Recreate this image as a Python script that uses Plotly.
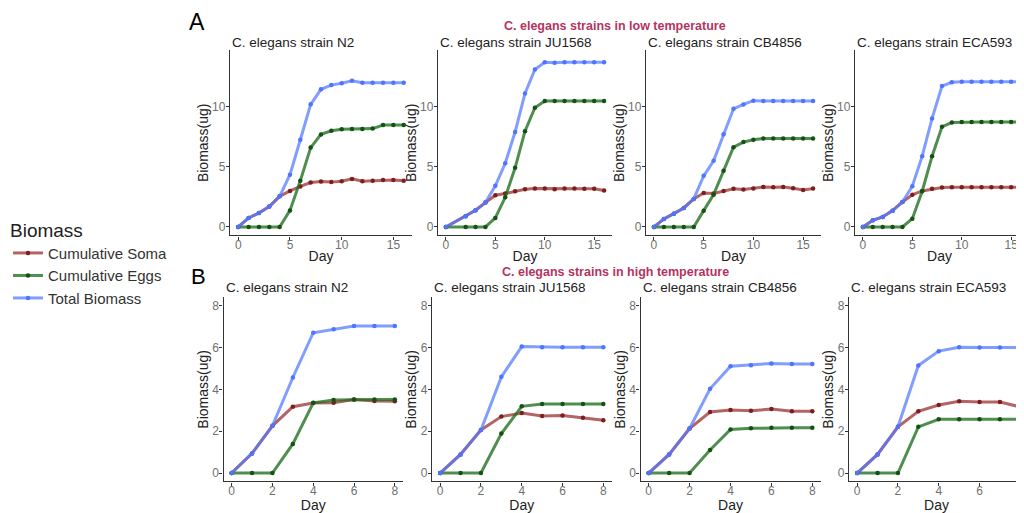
import plotly.graph_objects as go

# The page body has an 8px default margin; the figure is sized so that
# page pixel coordinates map exactly onto the 1024x513 reference.
OFF = 8
W, H = 1024 - OFF, 513 - OFF

# ---------------- data ----------------
strains = ["N2", "JU1568", "CB4856", "ECA593"]

# Low temperature (panel A)
low_days = {
    "N2":     [0, 1, 2, 3, 4, 5, 6, 7, 8, 9, 10, 11, 12, 13, 14, 15, 16],
    "JU1568": [0, 2, 3, 4, 5, 6, 7, 8, 9, 10, 11, 12, 13, 14, 15, 16],
    "CB4856": [0, 1, 2, 3, 4, 5, 6, 7, 8, 9, 10, 11, 12, 13, 14, 15, 16],
    "ECA593": [0, 1, 2, 3, 4, 5, 6, 7, 8, 9, 10, 11, 12, 13, 14, 15, 16],
}
low_soma = {
    "N2":     [0, 0.75, 1.16, 1.70, 2.55, 3.00, 3.37, 3.70, 3.78, 3.73, 3.81, 4.00, 3.81, 3.84, 3.90, 3.90, 3.84],
    "JU1568": [0, 0.89, 1.39, 2.03, 2.64, 2.78, 2.97, 3.14, 3.19, 3.19, 3.14, 3.19, 3.19, 3.17, 3.17, 3.03],
    "CB4856": [0, 0.67, 1.11, 1.58, 2.33, 2.83, 2.78, 3.00, 3.17, 3.11, 3.19, 3.33, 3.31, 3.33, 3.22, 3.08, 3.19],
    "ECA593": [0, 0.56, 0.83, 1.36, 2.08, 2.67, 3.00, 3.17, 3.28, 3.31, 3.31, 3.31, 3.31, 3.31, 3.31, 3.31, 3.31],
}
low_eggs = {
    "N2":     [0, 0, 0, 0, 0, 1.38, 3.84, 6.60, 7.70, 8.00, 8.12, 8.15, 8.15, 8.18, 8.48, 8.48, 8.48],
    "JU1568": [0, 0, 0, 0, 0.75, 2.47, 4.92, 7.97, 9.92, 10.47, 10.47, 10.47, 10.47, 10.47, 10.47, 10.47],
    "CB4856": [0, 0, 0, 0, 0, 1.36, 2.69, 4.67, 6.64, 7.06, 7.25, 7.36, 7.36, 7.36, 7.36, 7.36, 7.36],
    "ECA593": [0, 0, 0, 0, 0, 0.69, 2.97, 5.89, 8.33, 8.69, 8.72, 8.72, 8.72, 8.72, 8.72, 8.72, 8.72],
}
low_total = {
    "N2":     [0, 0.75, 1.16, 1.70, 2.55, 4.35, 7.25, 10.20, 11.45, 11.80, 11.95, 12.15, 12.00, 12.00, 12.00, 12.00, 12.00],
    "JU1568": [0, 0.89, 1.39, 2.03, 3.42, 5.30, 7.90, 11.10, 13.10, 13.70, 13.65, 13.70, 13.70, 13.70, 13.70, 13.70],
    "CB4856": [0, 0.67, 1.11, 1.58, 2.33, 4.25, 5.50, 7.72, 9.83, 10.19, 10.50, 10.47, 10.47, 10.47, 10.47, 10.47, 10.47],
    "ECA593": [0, 0.56, 0.83, 1.36, 2.08, 3.39, 5.89, 9.03, 11.72, 12.03, 12.08, 12.08, 12.08, 12.08, 12.08, 12.08, 12.08],
}

# High temperature (panel B)
high_days = [0, 1, 2, 3, 4, 5, 6, 7, 8]
high_soma = {
    "N2":     [0, 0.94, 2.26, 3.17, 3.35, 3.36, 3.52, 3.44, 3.43],
    "JU1568": [0, 0.89, 2.06, 2.70, 2.87, 2.73, 2.75, 2.65, 2.52],
    "CB4856": [0, 0.89, 2.13, 2.92, 3.02, 2.98, 3.06, 2.95, 2.95],
    "ECA593": [0, 0.89, 2.21, 2.95, 3.25, 3.43, 3.40, 3.40, 3.16],
}
high_eggs = {
    "N2":     [0, 0, 0, 1.39, 3.36, 3.49, 3.52, 3.52, 3.52],
    "JU1568": [0, 0, 0, 1.89, 3.19, 3.30, 3.30, 3.30, 3.30],
    "CB4856": [0, 0, 0, 1.10, 2.08, 2.14, 2.16, 2.16, 2.16],
    "ECA593": [0, 0, 0, 2.21, 2.57, 2.57, 2.57, 2.57, 2.57],
}
high_total = {
    "N2":     [0, 0.94, 2.26, 4.57, 6.71, 6.88, 7.03, 7.03, 7.03],
    "JU1568": [0, 0.89, 2.06, 4.60, 6.05, 6.02, 6.02, 6.02, 6.02],
    "CB4856": [0, 0.89, 2.13, 4.03, 5.11, 5.16, 5.24, 5.22, 5.22],
    "ECA593": [0, 0.89, 2.21, 5.14, 5.83, 6.02, 6.00, 6.00, 6.00],
}

series_names = ["Cumulative Soma", "Cumulative Eggs", "Total Biomass"]
low_x_ticks = [0, 5, 10, 15]
low_y_ticks = [0, 5, 10]
high_x_ticks = [0, 2, 4, 6, 8]
high_y_ticks = [0, 2, 4, 6, 8]

# ---------------- style ----------------
FONT = "Liberation Sans, Arial, Helvetica, sans-serif"
line_cols = ["rgba(150,40,40,0.72)", "rgba(30,110,30,0.78)", "rgba(80,120,255,0.72)"]
mark_cols = ["#7f1d1d", "#145214", "#4f74ff"]


def px_x(p):
    return (p - OFF) / W


def px_y(p):
    return 1 - (p - OFF) / H


# panel placement in page pixels: (left, right) ; rows: (top, bottom)
top_x = [(230, 412), (438, 612), (646, 821), (855, 1024)]
bot_x = [(223.5, 403), (432, 611.5), (640.5, 820.5), (849, 1024)]
top_y = (50.2, 235.4)
bot_y = (297.4, 481.4)
top_xrange = [[-0.8, 16.8], [-0.8, 16.8], [-0.8, 16.8], [-0.8, 16.3]]
bot_xrange = [[-0.4, 8.4], [-0.4, 8.4], [-0.4, 8.4], [-0.4, 8.18]]

fig = go.Figure()
layout = dict()
annotations = []

axis_common = dict(
    showline=True, linecolor="#333333", linewidth=1.3, mirror=False,
    showgrid=False, zeroline=False, ticks="outside", ticklen=3,
    tickcolor="#333333", tickwidth=1,
    tickfont=dict(family=FONT, size=12, color="#707070"),
    automargin=False, fixedrange=True,
)

idx = 0
for row in range(2):
    for col, s in enumerate(strains):
        idx += 1
        xa = "xaxis" if idx == 1 else f"xaxis{idx}"
        ya = "yaxis" if idx == 1 else f"yaxis{idx}"
        xr = "x" if idx == 1 else f"x{idx}"
        yr = "y" if idx == 1 else f"y{idx}"
        if row == 0:
            days = low_days[s]
            vals = [low_soma[s], low_eggs[s], low_total[s]]
            (l, r), (t, b) = top_x[col], top_y
            xrange, yrange = top_xrange[col], [-0.7, 14.7]
            xt, yt = low_x_ticks, low_y_ticks
        else:
            days = high_days
            vals = [high_soma[s], high_eggs[s], high_total[s]]
            (l, r), (t, b) = bot_x[col], bot_y
            xrange, yrange = bot_xrange[col], [-0.4, 8.4]
            xt, yt = high_x_ticks, high_y_ticks

        for k in range(3):
            fig.add_trace(go.Scatter(
                x=days, y=vals[k], xaxis=xr, yaxis=yr,
                mode="lines+markers", name=series_names[k],
                legendgroup=series_names[k], showlegend=(idx == 1),
                line=dict(color=line_cols[k], width=3),
                marker=dict(color=mark_cols[k], size=4.5),
            ))

        layout[xa] = dict(
            axis_common, domain=[px_x(l), min(px_x(r), 1.0)], range=xrange,
            tickvals=xt, anchor=yr, ticklabelstandoff=-5,
            title=dict(text="Day", standoff=0,
                       font=dict(family=FONT, size=14, color="#222222")),
        )
        layout[ya] = dict(
            axis_common, domain=[px_y(b), px_y(t)], range=yrange,
            tickvals=yt, anchor=xr, ticklabelstandoff=-2,
            title=dict(text="Biomass(ug)", standoff=0,
                       font=dict(family=FONT, size=14, color="#222222")),
        )
        # panel title
        ty = 42.5 if row == 0 else 287.5
        annotations.append(dict(
            text=f"C. elegans strain {s}", xref="paper", yref="paper",
            x=px_x(l), y=px_y(ty), xanchor="left", yanchor="middle",
            showarrow=False, font=dict(family=FONT, size=13.5, color="#222222"),
        ))

# section headers
annotations += [
    dict(text="A", xref="paper", yref="paper", x=px_x(197), y=px_y(22),
         xanchor="center", yanchor="middle", showarrow=False,
         font=dict(family=FONT, size=23, color="#000000")),
    dict(text="B", xref="paper", yref="paper", x=px_x(198), y=px_y(276),
         xanchor="center", yanchor="middle", showarrow=False,
         font=dict(family=FONT, size=22, color="#000000")),
    dict(text="<b>C. elegans strains in low temperature</b>", xref="paper", yref="paper",
         x=px_x(615), y=px_y(26), xanchor="center", yanchor="middle", showarrow=False,
         font=dict(family=FONT, size=12.5, color="#b5345f")),
    dict(text="<b>C. elegans strains in high temperature</b>", xref="paper", yref="paper",
         x=px_x(615), y=px_y(272), xanchor="center", yanchor="middle", showarrow=False,
         font=dict(family=FONT, size=12.5, color="#b5345f")),
]

fig.update_layout(
    width=W, height=H,
    margin=dict(l=0, r=0, t=0, b=0),
    paper_bgcolor="white", plot_bgcolor="white",
    font=dict(family=FONT),
    annotations=annotations,
    showlegend=True,
    legend=dict(
        title=dict(text="Biomass", font=dict(family=FONT, size=19, color="#222222")),
        font=dict(family=FONT, size=15, color="#333333"),
        x=0.0, y=px_y(212), xanchor="left", yanchor="top",
        bgcolor="rgba(0,0,0,0)", itemwidth=30, tracegroupgap=0,
    ),
    **layout,
)

fig.write_html("out.html")
